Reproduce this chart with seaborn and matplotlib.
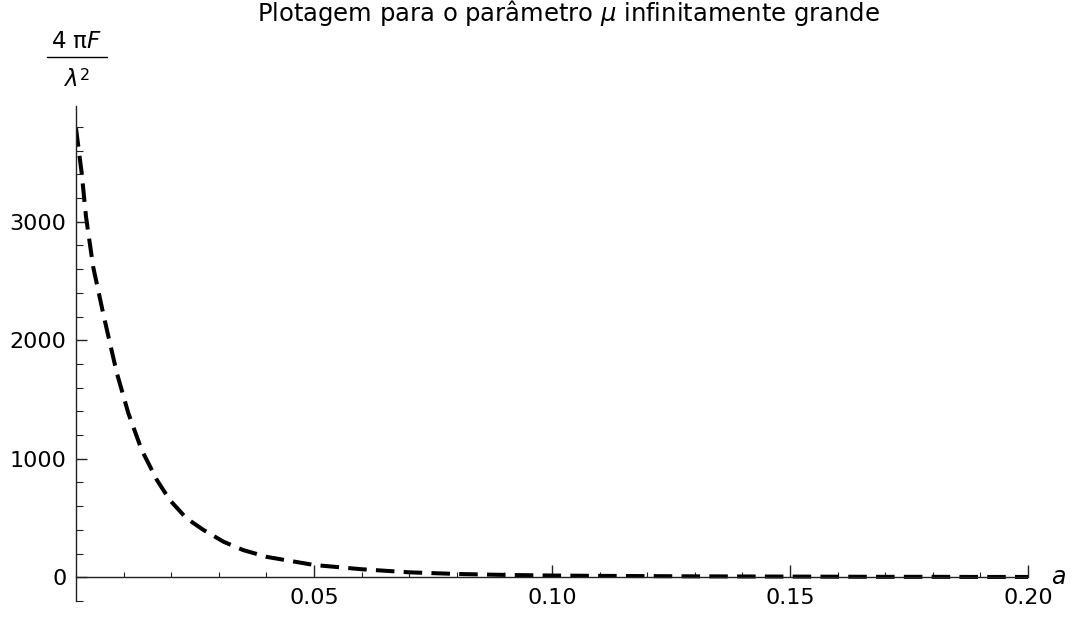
import numpy as np
import pandas as pd
import matplotlib
matplotlib.use("Agg")
import matplotlib.pyplot as plt
from matplotlib.lines import Line2D
from matplotlib.ticker import FixedLocator, MultipleLocator
import seaborn as sns

# ---- data ----
a_values = [0.0, 0.0012, 0.0021, 0.0036, 0.0057, 0.0073, 0.0086, 0.011, 0.0138,
            0.017, 0.0197, 0.0232, 0.0268, 0.031, 0.0351, 0.0401, 0.05, 0.06,
            0.07, 0.08, 0.09, 0.10, 0.11, 0.12, 0.13, 0.14, 0.15, 0.16, 0.17,
            0.18, 0.19, 0.20]
f_values = [3789, 3409, 3043, 2621, 2228, 1946, 1721, 1384, 1074,
            821, 652, 498, 399, 300, 230, 172, 104, 68,
            42, 28, 20, 15, 12, 10, 8, 7, 6, 5, 4,
            4, 3, 3]
x_major = [0.05, 0.10, 0.15, 0.20]
x_major_labels = ["0.05", "0.10", "0.15", "0.20"]
y_major = [0, 1000, 2000, 3000]
y_major_labels = ["0", "1000", "2000", "3000"]
title_text = "Plotagem para o parâmetro $\\mu$ infinitamente grande"
numerator_text = "4 π$F$"
denominator_base = "λ"
denominator_exp = "2"
x_label_text = "$a$"

sns.set_style("white")
plt.rcParams["font.family"] = ["DejaVu Sans"]
plt.rcParams["mathtext.fontset"] = "custom"
plt.rcParams["mathtext.rm"] = "DejaVu Sans"
plt.rcParams["mathtext.it"] = "DejaVu Sans:italic"
plt.rcParams["mathtext.default"] = "it"
plt.rcParams["text.color"] = "black"

W, H = 1075, 617
fig = plt.figure(figsize=(W / 100, H / 100), dpi=100)
ax = fig.add_axes([76 / W, 1 - 601 / H, (1028 - 76) / W, (601 - 106) / H])

df = pd.DataFrame({"a": a_values, "F": f_values})
sns.lineplot(data=df, x="a", y="F", ax=ax, color="black", linewidth=2.9,
             linestyle=(0, (4.6, 2.3)), sort=False, estimator=None)

ax.set_xlim(0, 0.2)
ax.set_ylim(-200, 3977)

for s in ["top", "right"]:
    ax.spines[s].set_visible(False)
ax.spines["left"].set_position(("data", 0))
ax.spines["bottom"].set_position(("data", 0))
for s in ["left", "bottom"]:
    ax.spines[s].set_color("#222222")
    ax.spines[s].set_linewidth(1.0)

ax.xaxis.set_major_locator(FixedLocator(x_major))
ax.set_xticklabels(x_major_labels)
ax.xaxis.set_minor_locator(MultipleLocator(0.01))
ax.yaxis.set_major_locator(FixedLocator(y_major))
ax.set_yticklabels(y_major_labels)
ax.yaxis.set_minor_locator(MultipleLocator(200))

ax.tick_params(axis="x", which="both", bottom=True, top=False)
ax.tick_params(axis="y", which="both", left=True, right=False)
ax.tick_params(axis="x", which="major", direction="in", length=8.5, width=1.0,
               color="#222222", labelsize=16, pad=8, labelcolor="black")
ax.tick_params(axis="x", which="minor", direction="in", length=3.8, width=0.8,
               color="#222222")
ax.tick_params(axis="y", which="major", direction="in", length=8, width=1.0,
               color="#222222", labelsize=16, pad=7, labelcolor="black")
ax.tick_params(axis="y", which="minor", direction="in", length=5, width=0.8,
               color="#222222")
ax.set_xlabel("")
ax.set_ylabel("")
ax.grid(False)

# title
fig.text(568 / W, 1 - 13 / H, title_text, ha="center", va="center",
         fontsize=17.5, color="black")

# y-axis label as a fraction
fig.text(77 / W, 1 - 41 / H, numerator_text, ha="center", va="center",
         fontsize=16.5, color="black")
fig.add_artist(Line2D([47 / W, 107 / W], [1 - 57 / H, 1 - 57 / H],
                      color="black", linewidth=1.0, transform=fig.transFigure))
fig.text(72 / W, 1 - 80 / H, denominator_base, ha="center", va="center",
         fontsize=16.5, style="italic", color="black")
fig.text(80 / W, 1 - 75 / H, denominator_exp, ha="left", va="center",
         fontsize=11.5, color="black")

# x-axis label
fig.text(1058 / W, 1 - 577 / H, x_label_text, ha="center", va="center",
         fontsize=17, color="black")

fig.savefig("out.png", dpi=100)
